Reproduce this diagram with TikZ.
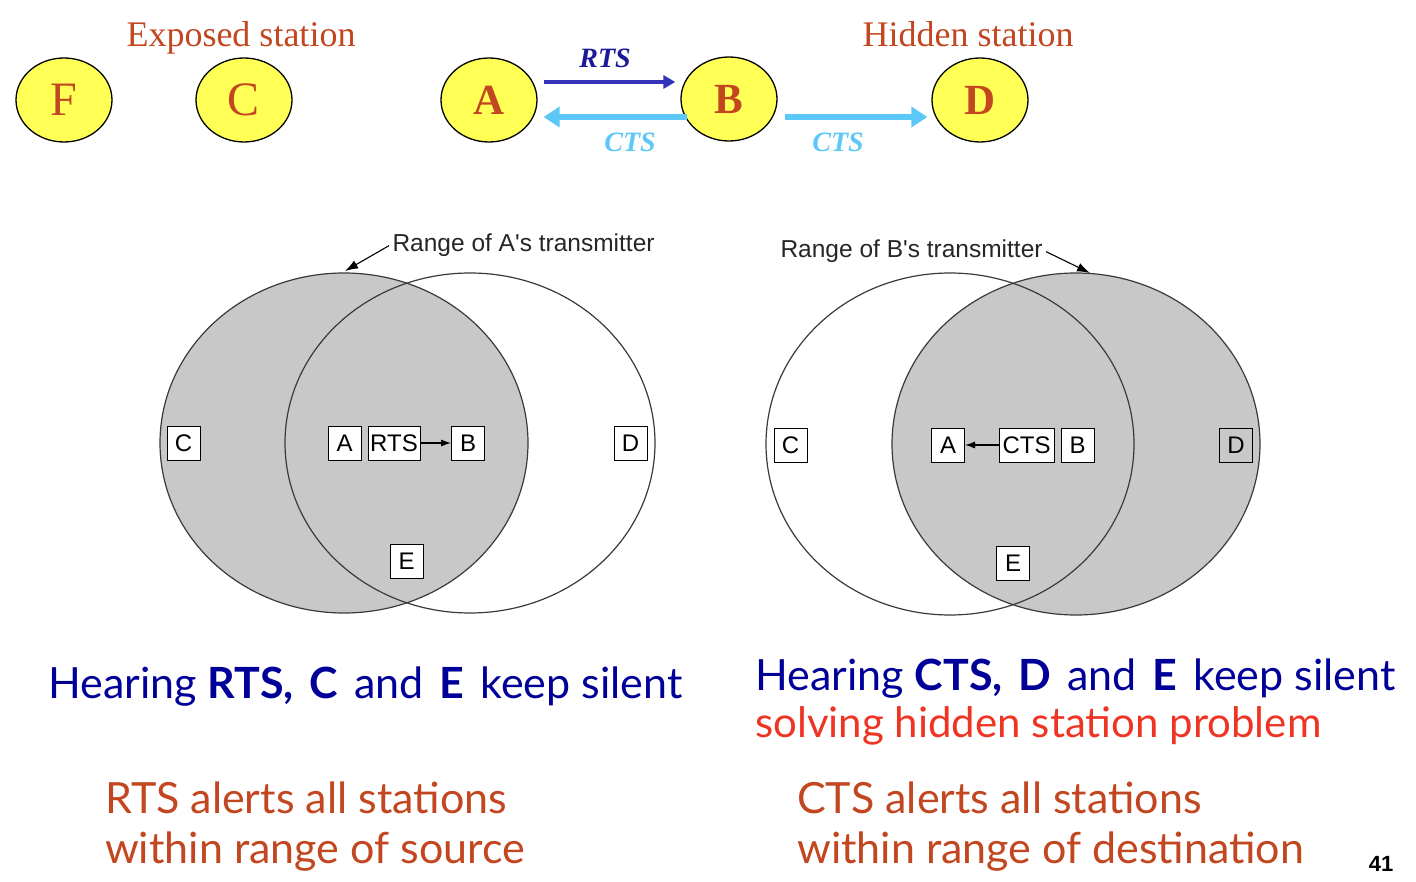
\documentclass[tikz,border=0pt]{standalone}
\usepackage{fontspec}
\setmainfont{Liberation Serif}
\newfontfamily\helv{Liberation Sans}
\newfontfamily\comic{Lato}
\usetikzlibrary{shapes.geometric,arrows.meta}

\definecolor{rust}{HTML}{C2461F}
\definecolor{stnyellow}{HTML}{FFFF55}
\definecolor{rtsblue}{HTML}{3333BB}
\definecolor{rtsnavy}{HTML}{1A1A99}
\definecolor{ctsblue}{HTML}{5BC8F7}
\definecolor{hearnavy}{HTML}{000099}
\definecolor{hotred}{HTML}{EE3524}
\definecolor{venngray}{HTML}{C8C8C8}
\definecolor{vennline}{HTML}{3A3A3A}

\tikzset{
  station/.style={ellipse, draw=black, line width=1.3pt, fill=stnyellow,
    minimum width=96pt, minimum height=84pt, inner sep=0pt, text=rust,
    font=\fontsize{48}{48}\selectfont},
  stationb/.style={station, font=\bfseries\fontsize{43}{43}\selectfont},
  toplabel/.style={text=rust, font=\fontsize{36}{40}\selectfont},
  msglabel/.style={font=\bfseries\itshape\fontsize{28}{28}\selectfont},
  rtsarrow/.style={draw=rtsblue, line width=4.5pt, -{Triangle[length=12pt,width=13pt]}},
  ctsarrow/.style={draw=ctsblue, line width=6.5pt, -{Triangle[length=16pt,width=20pt]}},
  stnbox/.style={draw=black, line width=1pt, fill=white, minimum width=33pt,
    minimum height=34pt, inner sep=1pt, font=\helv\fontsize{24}{24}\selectfont},
  rim/.style={draw=vennline, line width=1.2pt},
  rangelbl/.style={text=black!85, font=\helv\fontsize{24.5}{26}\selectfont},
  thin arrow/.style={draw=black, line width=1.1pt, -{Latex[length=10pt,width=7pt]}},
  range arrow/.style={draw=black, line width=1.1pt, -{Latex[length=13pt,width=9pt]}},
  comictext/.style={font=\comic\fontsize{43}{48}\selectfont, inner sep=0pt}
}

\begin{document}
\begin{tikzpicture}[x=1pt,y=-1pt]

  \newcommand\RX{184};
  \newcommand\RY{170};

  \useasboundingbox (0,0) rectangle (1416,882);

  % stations on top
  \node[station] (F) at (64,100) {F};
  \node[station] (C) at (244,100) {C};
  \node[stationb] (A) at (489,100) {A};
  \node[stationb] (B) at (729,99) {B};
  \node[stationb] (D) at (980,100) {D};

  \node[toplabel, anchor=base] (exposed) at (241,47) {Exposed station};
  \node[toplabel, anchor=base] (hidden) at (968,47) {Hidden station};

  \draw[rtsarrow] ([xshift=6pt,yshift=18pt]A.east) -- ([xshift=-5pt,yshift=17pt]B.west);
  \draw[ctsarrow] ([xshift=7pt,yshift=-18pt]B.west) -- ([xshift=6pt,yshift=-17pt]A.east);
  \draw[ctsarrow] ([xshift=7pt,yshift=-18pt]B.east) -- ([xshift=-4pt,yshift=-17pt]D.west);

  \node[msglabel, text=rtsnavy, anchor=base] (rtslbl) at (605,68) {RTS};
  \node[msglabel, text=ctsblue, anchor=base] (ctslbl) at (630,152) {CTS};
  \node[msglabel, text=ctsblue, anchor=base] (ctslbl2) at (838,152) {CTS};

  % range of A
  \fill[venngray] (344,443) ellipse [x radius=\RX, y radius=\RY];
  \draw[rim] (344,443) ellipse [x radius=\RX, y radius=\RY];
  \draw[rim] (470,443) ellipse [x radius=\RX+1, y radius=\RY];

  \node[stnbox] (lC) at (183.5,443) {C};
  \node[stnbox] (lA) at (344.5,443) {A};
  \node[stnbox, minimum width=52pt] (lRTS) at (394,443) {RTS};
  \node[stnbox] (lB) at (468,443) {B};
  \node[stnbox] (lD) at (630.5,443) {D};
  \node[stnbox] (lE) at (406.5,561) {E};
  \draw[thin arrow] (lRTS) -- (lB);

  \node[rangelbl, anchor=base west] (rangeA) at (389,252) {Range of A's transmitter};
  \coordinate (tipA) at (345,271);
  \draw[range arrow] (rangeA.west) -- (tipA);

  % range of B
  \fill[venngray] (1076,444) ellipse [x radius=\RX, y radius=\RY+1];
  \draw[rim] (950,444) ellipse [x radius=\RX, y radius=\RY+1];
  \draw[rim] (1076,444) ellipse [x radius=\RX, y radius=\RY+1];

  \node[stnbox] (rC) at (790.5,445) {C};
  \node[stnbox] (rA) at (948,445) {A};
  \node[stnbox, minimum width=55pt] (rCTS) at (1026.5,445) {CTS};
  \node[stnbox] (rB) at (1077.5,445) {B};
  \node[stnbox, fill=venngray] (rD) at (1236,445) {D};
  \node[stnbox] (rE) at (1013,563.5) {E};
  \draw[thin arrow] (rCTS) -- (rA);

  \node[rangelbl, anchor=base west] (rangeB) at (777,258) {Range of B's transmitter};
  \coordinate (tipB) at (1090,273);
  \draw[range arrow] (rangeB.east) -- (tipB);

  % captions
  \node[comictext, text=hearnavy, anchor=base west] (hearRTS) at (48,698)
    {Hearing \textbf{RTS,}\hspace{5pt} \textbf{C}\hspace{5pt} and\hspace{5pt} \textbf{E}\hspace{5pt} keep silent};
  \node[comictext, text=hearnavy, anchor=base west] (hearCTS) at (755,690)
    {Hearing \textbf{CTS,}\hspace{5pt} \textbf{D}\hspace{5pt} and\hspace{5pt} \textbf{E}\hspace{5pt} keep silent};
  \node[comictext, text=hotred, anchor=base west, font=\comic\fontsize{42}{48}\selectfont] (solving) at (755,737)
    {solving hidden station problem};

  \node[comictext, text=rust, anchor=base west] (rtsAlert) at (105,813) {RTS alerts all stations};
  \node[comictext, text=rust, anchor=base west] (withinSrc) at (105,863) {within range of source};
  \node[comictext, text=rust, anchor=base west] (ctsAlert) at (797,813) {CTS alerts all stations};
  \node[comictext, text=rust, anchor=base west] (withinDst) at (797,863) {within range of destination};

  \node[anchor=base, font=\helv\bfseries\fontsize{22}{22}\selectfont] (pagenum) at (1381,871) {41};

\end{tikzpicture}
\end{document}
